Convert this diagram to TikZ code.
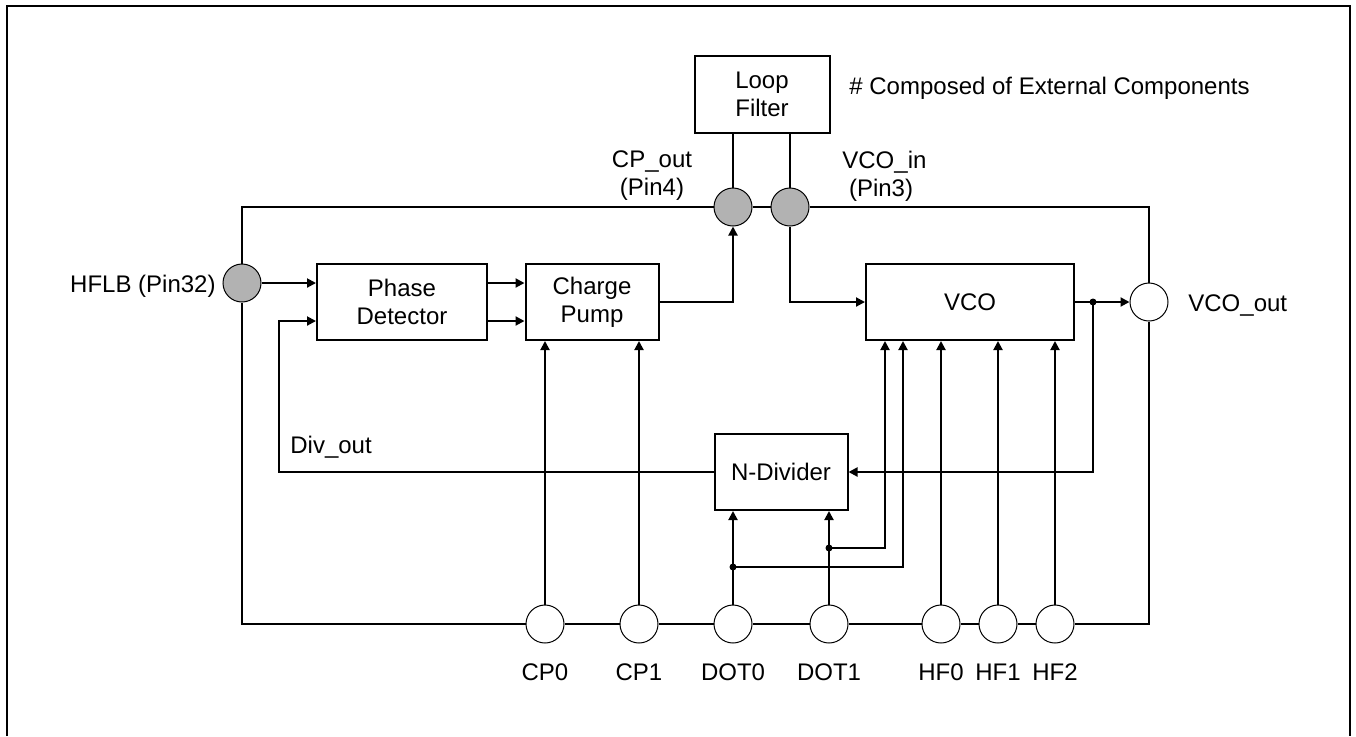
\documentclass[tikz,border=0pt]{standalone}
\usepackage{fontspec}
\setmainfont{Liberation Sans}
\usetikzlibrary{arrows.meta}

\begin{document}
\begin{tikzpicture}[x=0.5pt, y=-0.5pt, >={Triangle[length=4.5pt,width=4.5pt]}, font=\fontsize{12}{14}\selectfont,
	block/.style={draw, line width=1pt, inner sep=0pt, align=center},
	chippin/.style={circle, draw, line width=0.5pt, fill=white, minimum size=19pt, inner sep=0pt},
	extpin/.style={chippin, fill=black!30},
	wire/.style={line width=1pt},
	txt/.style={inner sep=0pt, align=center}]
	\useasboundingbox (0,0) rectangle (1356,736);
	\draw[line width=1pt] (7,736) -- (7,6) -- (1350,6) -- (1350,736);
	
	\node[block, minimum width=85pt, minimum height=38pt] (pd) at (402,302) {Phase\\Detector};
	\node[block, minimum width=66.5pt, minimum height=38pt] (cp) at (592,302) {Charge\\Pump};
	\node[block, minimum width=104pt, minimum height=38pt] (vco) at (970,302) {VCO};
	\node[block, minimum width=66.5pt, minimum height=38pt] (nd) at (781,472) {N-Divider};
	\node[block, minimum width=67.5pt, minimum height=38.5pt] (lf) at (762,94) {Loop\\Filter};
	
	\node[extpin] (hflb) at (242,283) {};
	\node[extpin] (cpout) at (733,207) {};
	\node[extpin] (vcoin) at (790,207) {};
	\node[chippin] (vcoout) at (1149,302) {};
	\foreach \p/\x/\t in {cp0/545/CP0, cp1/639/CP1, dot0/733/DOT0, dot1/829/DOT1, hf0/941/HF0, hf1/998/HF1, hf2/1055/HF2} {
		\node[chippin] (\p) at (\x,624) {};
		\node[txt, anchor=base] (\p-l) at (\x,680) {\t};
	}
	
	\coordinate (divin) at (279,321);
	\coordinate (tap) at (1093,302);
	\coordinate (j0) at (733,567);
	\coordinate (j1) at (829,548);
	\coordinate (vin0) at (903,0);
	\coordinate (vin1) at (885,0);
	
	\draw[wire] (hflb.north) |- (cpout.west);
	\draw[wire] (cpout) -- (vcoin);
	\draw[wire] (vcoin.east) -| (vcoout.north);
	\draw[wire] (vcoout.south) |- (hf2.east);
	\draw[wire] (hf2) -- (hf1) -- (hf0) -- (dot1) -- (dot0) -- (cp1) -- (cp0);
	\draw[wire] (cp0.west) -| (hflb.south);
	
	\draw[wire] (cpout.north) -- (cpout.north |- lf.south);
	\draw[wire] (vcoin.north) -- (vcoin.north |- lf.south);
	\draw[wire, ->] (cp.east) -| (cpout.south);
	\draw[wire, ->] (vcoin.south) |- (vco.west);
	
	\draw[wire, ->] (hflb.east) -- (pd.west |- hflb);
	\draw[wire, ->] (pd.east |- hflb) -- (cp.west |- hflb);
	\draw[wire, ->] (pd.east |- divin) -- (cp.west |- divin);
	\draw[wire, ->] (nd.west) -| (divin) -- (pd.west |- divin);
	
	\draw[wire, ->] (vco.east) -- (vcoout.west);
	\draw[wire, ->] (tap) |- (nd.east);
	\fill (tap) circle (1.75pt);
	
	\draw[wire, ->] (cp0) -- (cp0 |- cp.south);
	\draw[wire, ->] (cp1) -- (cp1 |- cp.south);
	\draw[wire, ->] (dot0) -- (dot0 |- nd.south);
	\draw[wire, ->] (dot1) -- (dot1 |- nd.south);
	\draw[wire, ->] (j0) -| (vin0 |- vco.south);
	\draw[wire, ->] (j1) -| (vin1 |- vco.south);
	\fill (j0) circle (1.75pt) (j1) circle (1.75pt);
	\foreach \p in {hf0, hf1, hf2} {
		\draw[wire, ->] (\p) -- (\p |- vco.south);
	}
	
	\node[txt, anchor=base east] (hflb-l) at (216,292) {HFLB (Pin32)};
	\node[txt] (cpout-l) at (652,176) {CP\_out\\(Pin4)};
	\node[txt, align=left, anchor=west] (vcoin-l) at (842,176) {VCO\_in\\\hspace*{3.3pt}(Pin3)};
	\node[txt, anchor=base west] (note) at (849,94) {\# Composed of External Components};
	\node[txt, anchor=base west] (vcoout-l) at (1188,311) {VCO\_out};
	\node[txt, anchor=base west] (div-l) at (290,453) {Div\_out};
\end{tikzpicture}
\end{document}
